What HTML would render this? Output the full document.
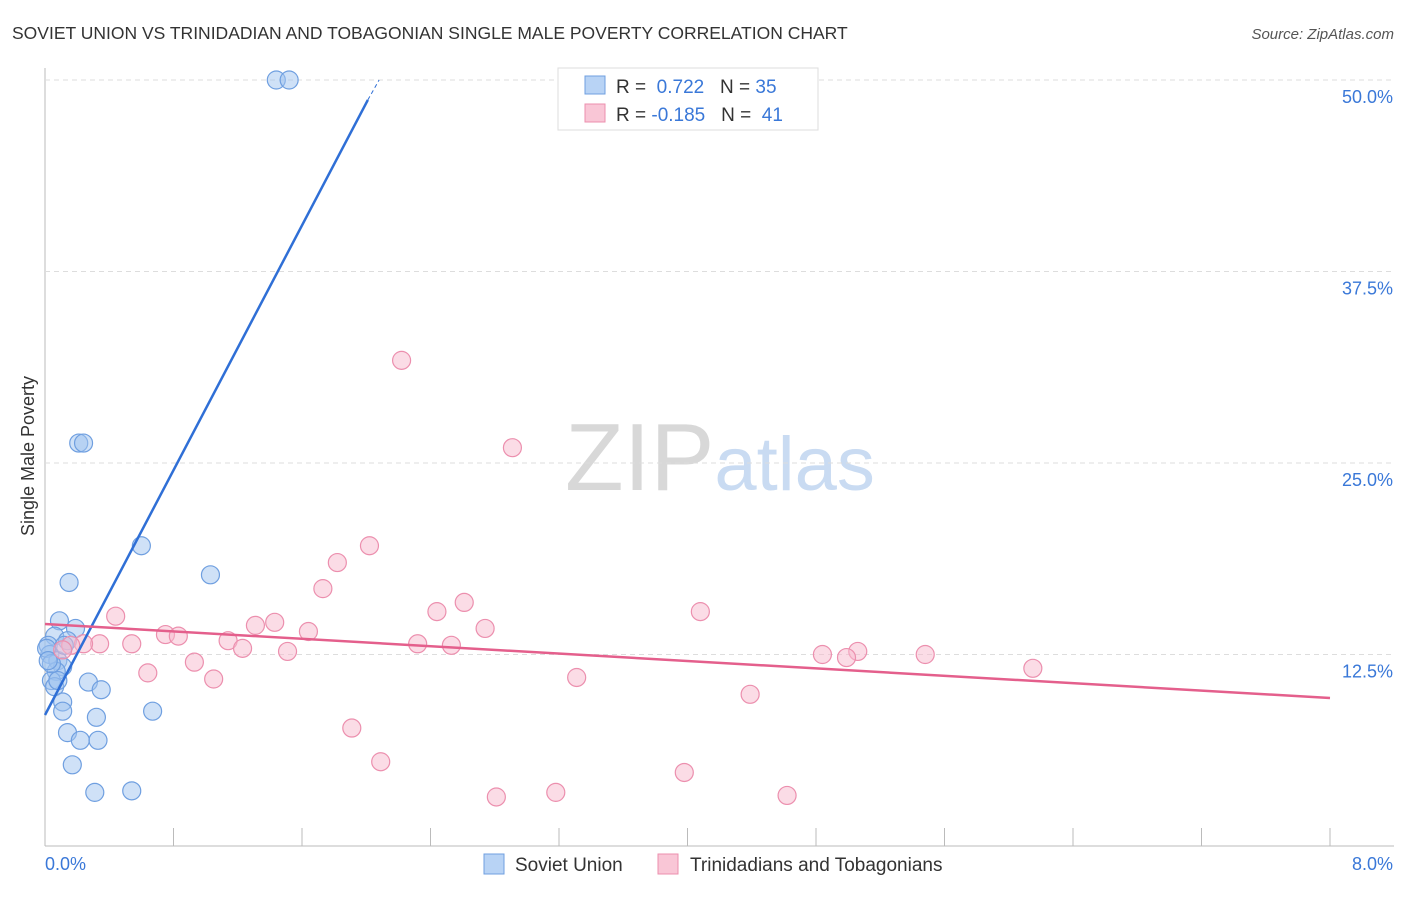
<!DOCTYPE html>
<html><head><meta charset="utf-8"><style>
body{margin:0;background:#fff;font-family:"Liberation Sans",sans-serif;}
svg text{font-family:"Liberation Sans",sans-serif;}
</style></head><body>
<svg id="c" width="1406" height="892" xmlns="http://www.w3.org/2000/svg">
<text x="12" y="39" font-size="17.5" fill="#333">SOVIET UNION VS TRINIDADIAN AND TOBAGONIAN SINGLE MALE POVERTY CORRELATION CHART</text>
<text x="1394" y="39" font-size="15" fill="#555" text-anchor="end" font-style="italic">Source: ZipAtlas.com</text>
<text x="720" y="490" font-size="96" text-anchor="middle" fill="#ddd" font-family="Liberation Serif"><tspan fill="#d8d8d8">ZIP</tspan><tspan fill="#c9dbf2" font-family="Liberation Sans" font-size="76">atlas</tspan></text>
<text transform="translate(34,456) rotate(-90)" font-size="18" fill="#333" text-anchor="middle">Single Male Poverty</text>
<g id="grid"></g><g id="pts"></g><g id="lines"></g>
<g>
<rect x="558" y="68" width="260" height="62" fill="#fff" stroke="#ddd"/>
<rect x="585" y="76" width="20" height="18" fill="#b8d3f5" stroke="#6f9fe0"/>
<rect x="585" y="104" width="20" height="18" fill="#f9c6d6" stroke="#ec8fae"/>
<text x="616" y="93" font-size="19" fill="#333">R = <tspan fill="#3a78d8">&#160;0.722</tspan>&#160;&#160;&#160;N = <tspan fill="#3a78d8">35</tspan></text>
<text x="616" y="121" font-size="19" fill="#333">R = <tspan fill="#3a78d8">-0.185</tspan>&#160;&#160;&#160;N = <tspan fill="#3a78d8">&#160;41</tspan></text>
</g>
<g>
<rect x="484" y="854" width="20" height="20" fill="#b8d3f5" stroke="#6f9fe0"/>
<text x="515" y="871" font-size="19" fill="#333">Soviet Union</text>
<rect x="658" y="854" width="20" height="20" fill="#f9c6d6" stroke="#ec8fae"/>
<text x="690" y="871" font-size="19" fill="#333">Trinidadians and Tobagonians</text>
</g>
</svg>
<script>
const xTickLabels=["0.0%","8.0%"];
const yTicks=[12.5,25,37.5,50];
const yTickLabels=["12.5%","25.0%","37.5%","50.0%"];
const sovietX=[1.44,1.52,0.21,0.24,0.60,1.03,0.15,0.09,0.19,0.06,0.14,0.02,0.03,0.08,0.11,0.07,0.04,0.06,0.27,0.35,0.11,0.11,0.32,0.67,0.14,0.22,0.33,0.17,0.31,0.54,0.01,0.12,0.04,0.08,0.02];
const sovietY=[50.0,50.0,26.3,26.3,19.6,17.7,17.2,14.7,14.2,13.7,13.4,13.1,12.5,12.1,11.7,11.4,10.8,10.4,10.7,10.2,9.4,8.8,8.4,8.8,7.4,6.9,6.9,5.3,3.5,3.6,12.9,13.1,11.9,10.8,12.1];
const trinX=[2.22,2.91,2.02,1.82,1.73,2.61,2.44,4.08,0.44,1.43,1.31,1.64,2.74,0.75,0.83,1.14,0.34,0.54,0.24,2.32,2.53,1.23,1.51,4.84,5.06,5.48,4.99,0.93,0.64,1.05,3.31,6.15,4.39,1.91,2.09,3.98,2.81,3.18,4.62,0.16,0.11];
const trinY=[31.7,26.0,19.6,18.5,16.8,15.9,15.3,15.3,15.0,14.6,14.4,14.0,14.2,13.8,13.7,13.4,13.2,13.2,13.2,13.2,13.1,12.9,12.7,12.5,12.7,12.5,12.3,12.0,11.3,10.9,11.0,11.6,9.9,7.7,5.5,4.8,3.2,3.5,3.3,13.1,12.8];
const sovietTrend=[[0,8.55],[2.01,48.7],[2.08,50]];
const trinTrend=[[0,14.49],[8,9.66]];
const NS="http://www.w3.org/2000/svg";
const X=v=>45+v/8*1285, Y=v=>846-v/50*766;
function mk(p,t,a){const e=document.createElementNS(NS,t);for(const k in a)e.setAttribute(k,a[k]);p.appendChild(e);return e;}
const g=document.getElementById('grid'),P=document.getElementById('pts'),L=document.getElementById('lines');
let ax=mk(g,'line',{x1:45,y1:68,x2:45,y2:846,stroke:'#bbb'});

let bx=mk(g,'line',{x1:45,y1:846,x2:1394,y2:846,stroke:'#bbb'});

for(let i=0;i<=10;i++){let t=mk(g,'line',{x1:X(i*0.8),x2:X(i*0.8),y1:828,y2:846,stroke:'#bbb'});
}
yTicks.forEach((v,i)=>{let l=mk(g,'line',{x1:45,x2:1394,y1:Y(v),y2:Y(v),stroke:'#ddd','stroke-dasharray':'5,4'});

let t=mk(g,'text',{x:1393,y:Y(v)+23,'font-size':18,fill:'#3a78d8','text-anchor':'end'});t.textContent=yTickLabels[i];
});
[[0,'start',45],[1,'end',1393]].forEach(([i,a,x])=>{let t=mk(g,'text',{x:x,y:870,'font-size':18,fill:'#3a78d8','text-anchor':a});t.textContent=xTickLabels[i];
});
sovietX.forEach((v,i)=>{let c=mk(P,'circle',{cx:X(v),cy:Y(sovietY[i]),r:9,fill:'rgba(160,195,240,0.5)',stroke:'#6f9fe0','stroke-width':1.2});
});
trinX.forEach((v,i)=>{let c=mk(P,'circle',{cx:X(v),cy:Y(trinY[i]),r:9,fill:'rgba(248,185,205,0.5)',stroke:'#ec8fae','stroke-width':1.2});
});
let s1=mk(L,'line',{x1:X(sovietTrend[0][0]),y1:Y(sovietTrend[0][1]),x2:X(sovietTrend[1][0]),y2:Y(sovietTrend[1][1]),stroke:'#2f6fd6','stroke-width':2.5});

let s2=mk(L,'line',{x1:X(sovietTrend[1][0]),y1:Y(sovietTrend[1][1]),x2:X(sovietTrend[2][0]),y2:Y(sovietTrend[2][1]),stroke:'#2f6fd6','stroke-width':1,'stroke-dasharray':'4,3'});

let t1=mk(L,'line',{x1:X(trinTrend[0][0]),y1:Y(trinTrend[0][1]),x2:X(trinTrend[1][0]),y2:Y(trinTrend[1][1]),stroke:'#e45f8c','stroke-width':2.5});

</script>
</body></html>
